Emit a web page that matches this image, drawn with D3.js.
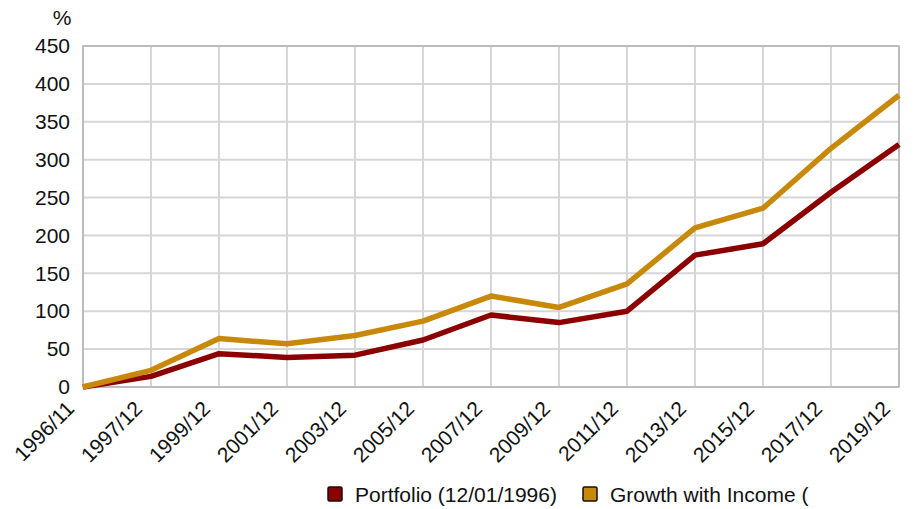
<html>
<head>
    <style>
        body { margin: 0; background: #fff; }
        text { font-family: "Liberation Sans", Arial, sans-serif; fill: #111; }
    </style>
</head>
<body>
    <svg id="container" height="509" width="913"></svg>
</body>
<script src="https://cdn.jsdelivr.net/npm/d3@7"></script>
<script>
    // categories along the x axis
    let dates = ["1996/11", "1997/12", "1999/12", "2001/12", "2003/12", "2005/12", "2007/12",
                 "2009/12", "2011/12", "2013/12", "2015/12", "2017/12", "2019/12"]
    // cumulative return in %
    let portfolio = [0, 14, 44, 39, 42, 62, 95, 85, 100, 174, 189, 257, 320]
    let growthIncome = [0, 22, 64, 57, 68, 87, 120, 105, 136, 210, 236, 315, 385]
    let yTicks = [0, 50, 100, 150, 200, 250, 300, 350, 400, 450]
    let seriesNames = ["Portfolio (12/01/1996)", "Growth with Income ("]
    let seriesColors = ["#8b0000", "#c8880a"]

    let svg = d3.select("#container")
    let plotLeft = 83, plotRight = 899, plotTop = 46, plotBottom = 387

    let x = d3.scalePoint().domain(dates).range([plotLeft, plotRight])
    let y = d3.scaleLinear().domain([0, 450]).range([plotBottom, plotTop])

    // grid
    svg.append("g").selectAll("line").data(yTicks)
        .enter().append("line")
        .attr("x1", plotLeft).attr("x2", plotRight)
        .attr("y1", d => y(d)).attr("y2", d => y(d))
        .attr("stroke", "#d6d6d6").attr("stroke-width", 2)
    svg.append("g").selectAll("line").data(dates)
        .enter().append("line")
        .attr("x1", d => x(d)).attr("x2", d => x(d))
        .attr("y1", plotTop).attr("y2", plotBottom)
        .attr("stroke", "#d6d6d6").attr("stroke-width", 2)
    svg.append("rect")
        .attr("x", plotLeft).attr("y", plotTop)
        .attr("width", plotRight - plotLeft).attr("height", plotBottom - plotTop)
        .attr("fill", "none").attr("stroke", "#b4b4b4").attr("stroke-width", 1.5)

    // y axis
    let yAxis = svg.append("g")
        .attr("transform", `translate(${plotLeft},0)`)
        .call(d3.axisLeft(y).tickValues(yTicks).tickSize(0).tickPadding(13))
    yAxis.select(".domain").remove()
    yAxis.selectAll("text").style("font-size", "21px").attr("fill", "#111")

    svg.append("text").attr("x", 62).attr("y", 25)
        .attr("text-anchor", "middle").style("font-size", "21px").text("%")

    // x axis
    let xAxis = svg.append("g")
        .attr("transform", `translate(0,${plotBottom})`)
        .call(d3.axisBottom(x).tickSize(0))
    xAxis.select(".domain").remove()
    xAxis.selectAll("text")
        .style("font-size", "21px").attr("fill", "#111")
        .attr("text-anchor", "end")
        .attr("dy", 0).attr("y", 0)
        .attr("transform", "translate(-8,23) rotate(-45)")

    // lines
    let line = d3.line().x((d, i) => x(dates[i])).y(d => y(d))
    let allSeries = [portfolio, growthIncome]
    svg.append("g").selectAll("path").data(allSeries)
        .enter().append("path")
        .attr("d", d => line(d))
        .attr("fill", "none")
        .attr("stroke", (d, i) => seriesColors[i])
        .attr("stroke-width", 5.5)
        .attr("stroke-linejoin", "round")

    // legend
    let legendX = [328, 583]
    let legend = svg.append("g").selectAll("g").data(seriesNames)
        .enter().append("g")
        .attr("transform", (d, i) => `translate(${legendX[i]},487)`)
    legend.append("rect")
        .attr("width", 14).attr("height", 14).attr("rx", 1.5)
        .attr("fill", (d, i) => seriesColors[i])
        .attr("stroke", "#111").attr("stroke-width", 1.5)
    legend.append("text")
        .attr("x", 27).attr("y", 15)
        .style("font-size", "21px")
        .text(d => d)
</script>
</html>
